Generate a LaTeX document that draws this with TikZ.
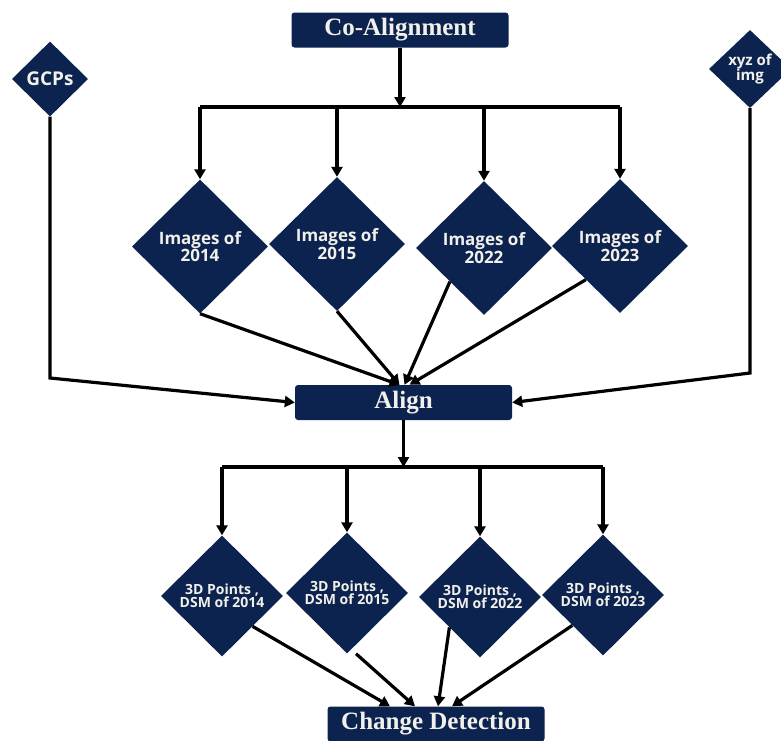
\documentclass[tikz,border=0pt]{standalone}
\usepackage{fontspec}
\setmainfont{Liberation Serif}
\newfontfamily\diafont{Open Sans}
\usepackage{tikz}
\usetikzlibrary{arrows.meta, positioning, shapes.geometric}
\definecolor{navy}{RGB}{12,35,80}
\definecolor{paper}{RGB}{242,240,234}

\begin{document}
\begin{tikzpicture}[x=1pt, y=-1pt,
  titlebox/.style={fill=navy, rounded corners=3pt, minimum width=217pt, minimum height=35pt,
    inner sep=0pt, text=paper, font=\bfseries\fontsize{25}{27}\selectfont},
  yearbox/.style={diamond, fill=navy, inner sep=0pt, minimum width=136pt, minimum height=134pt,
    text=paper, align=center, font=\diafont\bfseries\fontsize{17}{16}\selectfont},
  dsmbox/.style={yearbox, minimum width=122pt, minimum height=121pt,
    font=\diafont\bfseries\fontsize{14}{13}\selectfont},
  flow/.style={line width=3.2pt, -{Triangle[length=10pt,width=11pt]}},
  bus/.style={line width=3.2pt}]
  \fill[white] (0,0) rectangle (781,740);
  \useasboundingbox (0,0) rectangle (781,740);
  % ============ top: co-alignment and inputs ============
  \node[titlebox] (coal) at (400,30) {Co-Alignment};
  \node[yearbox, minimum width=76pt, minimum height=75pt, font=\diafont\bfseries\fontsize{19}{18}\selectfont] (gcp) at (50,79) {GCPs};
  \node[yearbox, minimum width=82pt, minimum height=78pt, font=\diafont\bfseries\fontsize{15}{15}\selectfont] (xyz) at (750,69) {xyz of\\img};
  \coordinate (topbus) at (400,107);
  % ============ images per year ============
  \node[yearbox] (img14) at (200,246.5) {Images of\\2014};
  \node[yearbox] (img15) at (337,244) {Images of\\2015};
  \node[yearbox] (img22) at (484,248) {Images of\\2022};
  \node[yearbox] (img23) at (620,246) {Images of\\2023};
  \draw[flow] (coal.south) -- (topbus);
  \draw[bus] (img14 |- topbus) -- (img23 |- topbus);
  \draw[flow] (img14 |- topbus) -- (img14.north);
  \draw[flow] (img15 |- topbus) -- (img15.north);
  \draw[flow] (img22 |- topbus) -- (img22.north);
  \draw[flow] (img23 |- topbus) -- (img23.north);
  % ============ align ============
  \node[titlebox] (align) at (403.5,402.5) {Align};
  \draw[flow] (img14.south) -- ([xshift=-4pt]align.north);
  \draw[flow] (img15.south) -- ([xshift=-4pt]align.north);
  \draw[flow] (img22.south west) -- ([xshift=1pt]align.north);
  \draw[flow] (img23.south west) -- ([xshift=6pt]align.north);
  \draw[flow] (gcp.south) -- (50,378) -- (align.west);
  \draw[flow] (xyz.south) -- (750,373) -- (align.east);
  \coordinate (lowbus) at (403.5,467);
  % ============ DSM per year ============
  \node[dsmbox] (dsm14) at (222,596) {3D Points ,\\DSM of 2014};
  \node[dsmbox] (dsm15) at (347,593) {3D Points ,\\DSM of 2015};
  \node[dsmbox] (dsm22) at (480,597) {3D Points ,\\DSM of 2022};
  \node[dsmbox] (dsm23) at (603,595) {3D Points ,\\DSM of 2023};
  \draw[flow] (align.south) -- (lowbus);
  \draw[bus] (dsm14 |- lowbus) -- (dsm23 |- lowbus);
  \draw[flow] (dsm14 |- lowbus) -- (dsm14.north);
  \draw[flow] (dsm15 |- lowbus) -- (dsm15.north);
  \draw[flow] (dsm22 |- lowbus) -- (dsm22.north);
  \draw[flow] (dsm23 |- lowbus) -- (dsm23.north);
  % ============ change detection ============
  \node[titlebox] (chg) at (436,724) {Change Detection};
  \draw[flow] (dsm14.south east) -- ([xshift=-46pt]chg.north);
  \draw[flow] ([xshift=9pt]dsm15.south) -- ([xshift=-21pt]chg.north);
  \draw[flow] (dsm22.south west) -- ([xshift=2pt]chg.north);
  \draw[flow] (dsm23.south west) -- ([xshift=16pt]chg.north);
\end{tikzpicture}
\end{document}
